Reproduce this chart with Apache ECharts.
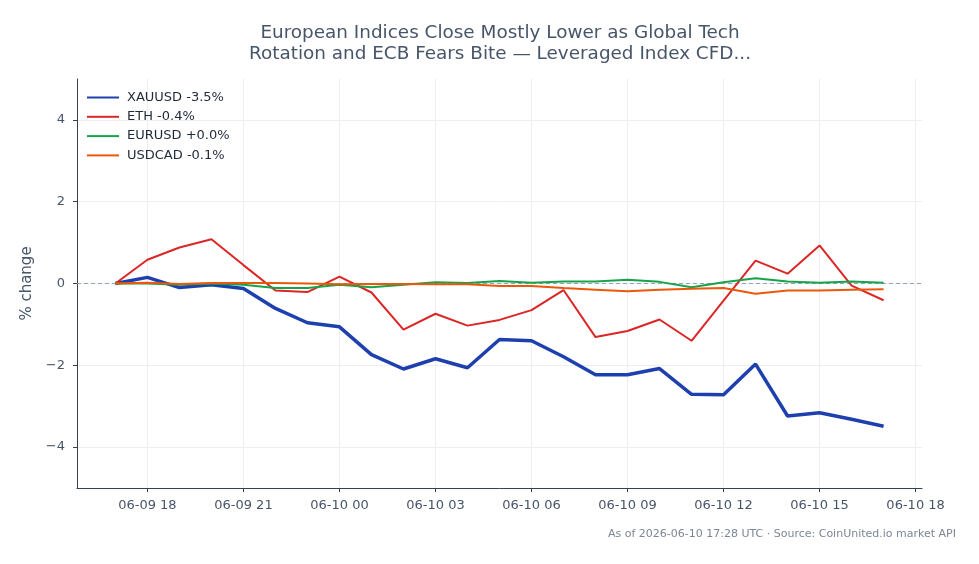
<!DOCTYPE html>
<html>
<head>
<meta charset="utf-8">
<script src="https://cdn.jsdelivr.net/npm/echarts@6/dist/echarts.min.js"></script>
<style>
  html, body { margin: 0; padding: 0; background: #fff; }
  #chart { width: 979px; height: 564px; }
</style>
</head>
<body>
<div id="chart"></div>
<script>
var times = ['2026-06-09 17:00', '2026-06-09 18:00', '2026-06-09 19:00', '2026-06-09 20:00', '2026-06-09 21:00',
    '2026-06-09 22:00', '2026-06-09 23:00', '2026-06-10 00:00', '2026-06-10 01:00', '2026-06-10 02:00',
    '2026-06-10 03:00', '2026-06-10 04:00', '2026-06-10 05:00', '2026-06-10 06:00', '2026-06-10 07:00',
    '2026-06-10 08:00', '2026-06-10 09:00', '2026-06-10 10:00', '2026-06-10 11:00', '2026-06-10 12:00',
    '2026-06-10 13:00', '2026-06-10 14:00', '2026-06-10 15:00', '2026-06-10 16:00', '2026-06-10 17:00'];

var seriesNames = ['XAUUSD -3.5%', 'ETH -0.4%', 'EURUSD +0.0%', 'USDCAD -0.1%'];

var xauusd = [0, 0.15, -0.1, -0.03, -0.12, -0.61, -0.96, -1.06, -1.74, -2.09, -1.84, -2.06, -1.37,
    -1.40, -1.79, -2.23, -2.23, -2.08, -2.71, -2.72, -1.97, -3.24, -3.16, -3.32, -3.49];
var eth = [0, 0.58, 0.88, 1.08, 0.45, -0.17, -0.21, 0.17, -0.22, -1.13, -0.74, -1.03, -0.89,
    -0.65, -0.16, -1.31, -1.16, -0.88, -1.40, -0.42, 0.56, 0.24, 0.93, -0.05, -0.41];
var eurusd = [0, 0.0, -0.03, 0.0, -0.03, -0.11, -0.11, -0.03, -0.09, -0.03, 0.03, 0.01, 0.06,
    0.02, 0.05, 0.05, 0.09, 0.04, -0.09, 0.03, 0.13, 0.05, 0.02, 0.05, 0.02];
var usdcad = [0, 0.02, -0.01, 0.01, 0.01, 0.01, 0.0, -0.02, -0.01, -0.01, -0.02, -0.02, -0.06,
    -0.06, -0.11, -0.15, -0.19, -0.15, -0.13, -0.11, -0.25, -0.17, -0.17, -0.15, -0.14];

var xTicks = ['2026-06-09 18:00', '2026-06-09 21:00', '2026-06-10 00:00', '2026-06-10 03:00', '2026-06-10 06:00',
    '2026-06-10 09:00', '2026-06-10 12:00', '2026-06-10 15:00', '2026-06-10 18:00'];
var yTicks = [-4, -2, 0, 2, 4];

// x positions are hours counted from 2026-06-09 00:00
var base = new Date(2026, 5, 9, 0, 0).getTime();
var hour = 3600 * 1000;
function toHours(s) {
    var p = s.split(/[- :]/);
    return (new Date(+p[0], +p[1] - 1, +p[2], +p[3], +p[4]).getTime() - base) / hour;
}
function pad(n) { return (n < 10 ? '0' : '') + n; }

var font = 'DejaVu Sans';
var xs = times.map(toHours);
var span = xs[xs.length - 1] - xs[0];

function pairs(vals) {
    return vals.map(function (v, i) { return [xs[i], v]; });
}

var chart = echarts.init(document.getElementById('chart'));

var colors = ['#1e40af', '#dc2626', '#16a34a', '#ea580c'];
var widths = [3.5, 2, 2, 2];
var values = [xauusd, eth, eurusd, usdcad];

var series = values.map(function (vals, k) {
    var s = {
        name: seriesNames[k],
        type: 'line',
        symbol: 'none',
        data: pairs(vals),
        lineStyle: { width: widths[k], color: colors[k] },
        itemStyle: { color: colors[k] },
        z: 3 + k
    };
    if (k === 0) {
        s.markLine = {
            silent: true,
            symbol: 'none',
            label: { show: false },
            lineStyle: { color: '#94a3b8', type: [4, 3], width: 1 },
            data: [{ yAxis: 0 }],
            z: 2
        };
    }
    return s;
});

var option = {
    animation: false,
    textStyle: { fontFamily: font },
    title: {
        text: 'European Indices Close Mostly Lower as Global Tech\nRotation and ECB Fears Bite — Leveraged Index CFD...',
        left: 495,
        textAlign: 'center',
        top: 17,
        textStyle: {
            fontFamily: font,
            fontSize: 18.4,
            fontWeight: 'normal',
            lineHeight: 21.5,
            color: '#475569'
        }
    },
    legend: {
        orient: 'vertical',
        left: 86,
        top: 91,
        padding: 0,
        itemWidth: 32,
        itemHeight: 14,
        itemGap: 6.3,
        itemStyle: { color: 'rgba(0,0,0,0)', borderWidth: 0, opacity: 0 },
        data: seriesNames,
        textStyle: { fontFamily: font, fontSize: 13, color: '#1f2937', padding: [0, 0, 0, 3] }
    },
    grid: {
        left: 77,
        right: 57,
        top: 79,
        bottom: 76
    },
    xAxis: {
        type: 'value',
        min: xs[0] - span * 0.05,
        max: xs[xs.length - 1] + span * 0.05,
        axisLine: { onZero: false, lineStyle: { color: '#334155', width: 1 } },
        axisTick: { show: true, length: 4, lineStyle: { color: '#334155' }, customValues: xTicks.map(toHours) },
        axisLabel: {
            customValues: xTicks.map(toHours),
            color: '#475569',
            fontSize: 13,
            fontFamily: font,
            margin: 11,
            formatter: function (v) {
                var d = new Date(base + v * hour);
                return pad(d.getMonth() + 1) + '-' + pad(d.getDate()) + ' ' + pad(d.getHours());
            }
        },
        splitLine: { show: true, lineStyle: { color: '#eceef2', width: 1 } }
    },
    yAxis: {
        type: 'value',
        min: -5,
        max: 5,
        name: '% change',
        nameLocation: 'middle',
        nameGap: 36,
        nameTextStyle: { fontFamily: font, fontSize: 15, color: '#475569' },
        axisLine: { show: true, lineStyle: { color: '#334155', width: 1 } },
        axisTick: { show: true, length: 4, lineStyle: { color: '#334155' }, customValues: yTicks },
        axisLabel: {
            customValues: yTicks,
            color: '#475569',
            fontSize: 13,
            fontFamily: font,
            margin: 12,
            formatter: function (v) { return v < 0 ? '\u2212' + Math.abs(v) : String(v); }
        },
        splitLine: { show: true, lineStyle: { color: '#eceef2', width: 1 } }
    },
    graphic: [{
        type: 'text',
        right: 23,
        top: 529,
        style: {
            text: 'As of 2026-06-10 17:28 UTC · Source: CoinUnited.io market API',
            fontFamily: font,
            fontSize: 11,
            fill: '#7b8794'
        }
    }],
    series: series
};

chart.setOption(option);

window.addEventListener('resize', function () {
    chart.resize();
});
</script>
</body>
</html>
